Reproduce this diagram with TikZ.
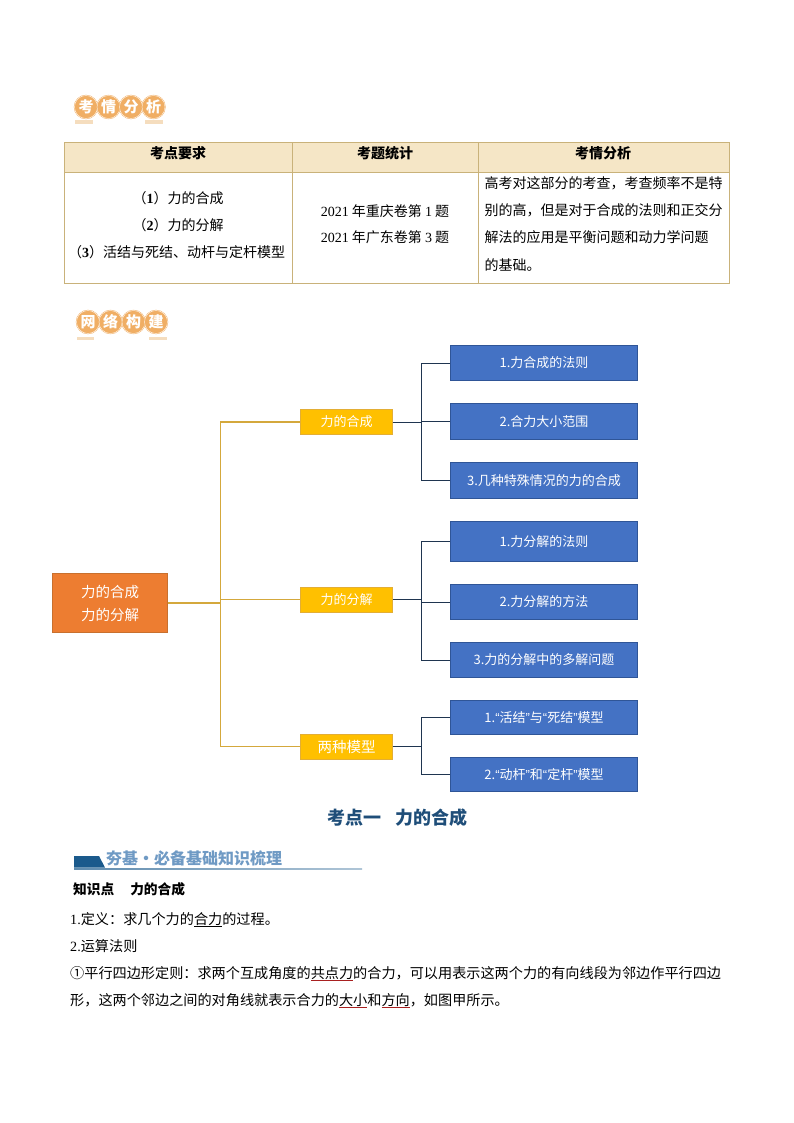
\documentclass[tikz,border=0pt]{standalone}
\usepackage{fontspec}
\setmainfont{Noto Sans CJK SC}
\newfontfamily\serifnum{Liberation Serif}
\newfontfamily\sansquote{Liberation Sans}
\newcommand{\nm}[1]{{\serifnum #1}}
\newcommand{\qt}[1]{{\sansquote #1}}
\newcommand{\redul}[1]{\textcolor{ulred}{\underline{\textcolor{black}{#1}}}}
\definecolor{badgeorange}{HTML}{F0AE64}
\definecolor{barorange}{HTML}{F5DDBE}
\definecolor{headfill}{HTML}{F5E6C6}
\definecolor{tableline}{HTML}{C9B27A}
\definecolor{rootfill}{HTML}{ED7D31}
\definecolor{rootline}{HTML}{C8702E}
\definecolor{midfill}{HTML}{FFC000}
\definecolor{midline}{HTML}{E3AE35}
\definecolor{leaffill}{HTML}{4472C4}
\definecolor{leafline}{HTML}{2F5597}
\definecolor{goldline}{HTML}{D4A83C}
\definecolor{navyline}{HTML}{1F3550}
\definecolor{titleblue}{HTML}{1F4E79}
\definecolor{bandblue}{HTML}{1B5A8C}
\definecolor{bandtext}{HTML}{6F9AC4}
\definecolor{ulred}{HTML}{A82020}
\tikzset{
  badge/.style={circle, inner sep=0pt, minimum size=23pt, fill=badgeorange, draw=badgeorange,
    double=white, double distance=.35pt, line width=.5pt, text=white, font=\fontsize{15}{15}\selectfont\bfseries},
  bar/.style={fill=barorange, draw=none},
  headcell/.style={font=\fontsize{14}{14}\selectfont\bfseries},
  cell/.style={font=\fontsize{14}{14}\selectfont},
  para/.style={anchor=base west, inner sep=0pt, font=\fontsize{14.15}{14}\selectfont},
  rootbox/.style={draw=rootline, fill=rootfill, text=white, align=center, minimum width=115pt, minimum height=59pt,
    inner sep=0pt, font=\fontsize{14.5}{23}\selectfont},
  midbox/.style={draw=midline, fill=midfill, text=white, minimum width=92pt, minimum height=25pt,
    inner sep=0pt, font=\fontsize{13}{13}\selectfont},
  leafbox/.style={draw=leafline, fill=leaffill, text=white, minimum width=187pt,
    inner sep=0pt, font=\fontsize{13}{13}\selectfont},
  gold/.style={draw=goldline, line width=1.1pt},
  navy/.style={draw=navyline, line width=1pt}
}
\begin{document}
\begin{tikzpicture}[x=1pt, y=-1pt]
  \useasboundingbox (0,0) rectangle (794,1123);

  % first heading
  \fill[bar] (75,120.5) rectangle (93,124);
  \fill[bar] (145,120.5) rectangle (163,124);
  \node[badge] (a1) at (86,107) {考};
  \node[badge] (a2) at (108.5,107) {情};
  \node[badge] (a3) at (131,107) {分};
  \node[badge] (a4) at (153.5,107) {析};

  % table
  \fill[headfill] (64.5,143) rectangle (729.5,173);
  \draw[tableline, line width=1pt] (64.5,143) rectangle (729.5,283);
  \draw[tableline, line width=1pt] (64.5,173) -- (729.5,173);
  \draw[tableline, line width=1pt] (292.5,143) -- (292.5,283);
  \draw[tableline, line width=1pt] (478.5,143) -- (478.5,283);

  \node[headcell] (h1) at (178,153) {考点要求};
  \node[headcell] (h2) at (385,153) {考题统计};
  \node[headcell] (h3) at (603,153) {考情分析};

  \node[cell] (c1) at (178,198) {（\nm{\bfseries 1}）力的合成};
  \node[cell] (c2) at (178,225) {（\nm{\bfseries 2}）力的分解};
  \node[cell] (c3) at (176.5,252) {（\nm{\bfseries 3}）活结与死结、动杆与定杆模型};

  \node[cell] (s1) at (385,211) {\nm{2021} 年重庆卷第 \nm{1} 题};
  \node[cell] (s2) at (385,237) {\nm{2021} 年广东卷第 \nm{3} 题};

  \node[cell, anchor=west, inner sep=0pt] (t1) at (484.5,183) {高考对这部分的考查，考查频率不是特};
  \node[cell, anchor=west, inner sep=0pt] (t2) at (484.5,210) {别的高，但是对于合成的法则和正交分};
  \node[cell, anchor=west, inner sep=0pt] (t3) at (484.5,237) {解法的应用是平衡问题和动力学问题};
  \node[cell, anchor=west, inner sep=0pt] (t4) at (484.5,265) {的基础。};

  % second heading
  \fill[bar] (77,337) rectangle (94,339.5);
  \fill[bar] (149,337) rectangle (167,339.5);
  \node[badge] (b1) at (88,322) {网};
  \node[badge] (b2) at (110.5,322) {络};
  \node[badge] (b3) at (133.5,322) {构};
  \node[badge] (b4) at (156,322) {建};

  % tree
  \node[rootbox] (root) at (110,603) {力的合成\\力的分解};

  \node[midbox] (m1) at (346.5,422) {力的合成};
  \node[midbox] (m2) at (346.5,599.5) {力的分解};
  \node[midbox, font=\fontsize{14.5}{14}\selectfont] (m3) at (346.5,746.5) {两种模型};

  \node[leafbox, minimum height=35pt] (l1) at (544,363) {1.力合成的法则};
  \node[leafbox, minimum height=36pt] (l2) at (544,421.5) {2.合力大小范围};
  \node[leafbox, minimum height=36pt] (l3) at (544,480.5) {3.几种特殊情况的力的合成};
  \node[leafbox, minimum height=40pt] (l4) at (544,541.5) {1.力分解的法则};
  \node[leafbox, minimum height=35pt] (l5) at (544,602) {2.力分解的方法};
  \node[leafbox, minimum height=35pt] (l6) at (544,660) {3.力的分解中的多解问题};
  \node[leafbox, minimum height=34pt] (l7) at (544,717.5) {1.\qt{“}活结\qt{”}与\qt{“}死结\qt{”}模型};
  \node[leafbox, minimum height=34pt] (l8) at (544,774.5) {2.\qt{“}动杆\qt{”}和\qt{“}定杆\qt{”}模型};

  \coordinate (jroot) at (220.5,603);
  \coordinate (j1) at (421.5,422);
  \coordinate (j2) at (421.5,599.5);
  \coordinate (j3) at (421.5,746.5);

  \draw[gold] (root.east) -- (jroot);
  \draw[gold] (jroot) |- (m1.west);
  \draw[gold] (jroot) |- (m2.west);
  \draw[gold] (jroot) |- (m3.west);

  \draw[navy] (m1.east) -- (j1);
  \draw[navy] (j1) |- (l1.west);
  \draw[navy] (j1) |- (l2.west);
  \draw[navy] (j1) |- (l3.west);

  \draw[navy] (m2.east) -- (j2);
  \draw[navy] (j2) |- (l4.west);
  \draw[navy] (j2) |- (l5.west);
  \draw[navy] (j2) |- (l6.west);

  \draw[navy] (m3.east) -- (j3);
  \draw[navy] (j3) |- (l7.west);
  \draw[navy] (j3) |- (l8.west);

  % section
  \node[text=titleblue, font=\fontsize{18}{18}\selectfont\bfseries] (title) at (397.5,818) {考点一\hspace{14pt}力的合成};

  \shade[left color=bandblue!70, right color=bandblue!35] (74,868) rectangle (362,869);
  \fill[bandblue] (74,856) -- (99,856) -- (105,867.5) -- (74,867.5) -- cycle;
  \node[anchor=west, inner sep=0pt, text=bandtext, font=\fontsize{16}{16}\selectfont\bfseries] (band) at (106,858) {夯基·必备基础知识梳理};

  \node[para, font=\fontsize{13.7}{14}\selectfont\bfseries] (p0) at (73,894) {知识点\hspace{16pt}力的合成};
  \node[para] (p1) at (70,924) {\nm{1.}定义：求几个力的\underline{合力}的过程。};
  \node[para] (p2) at (70,951) {\nm{2.}运算法则};
  \node[para] (p3) at (70,978) {①平行四边形定则：求两个互成角度的\redul{共点力}的合力，可以用表示这两个力的有向线段为邻边作平行四边};
  \node[para] (p4) at (70,1005) {形，这两个邻边之间的对角线就表示合力的\redul{大小}和\redul{方向}，如图甲所示。};
\end{tikzpicture}
\end{document}
